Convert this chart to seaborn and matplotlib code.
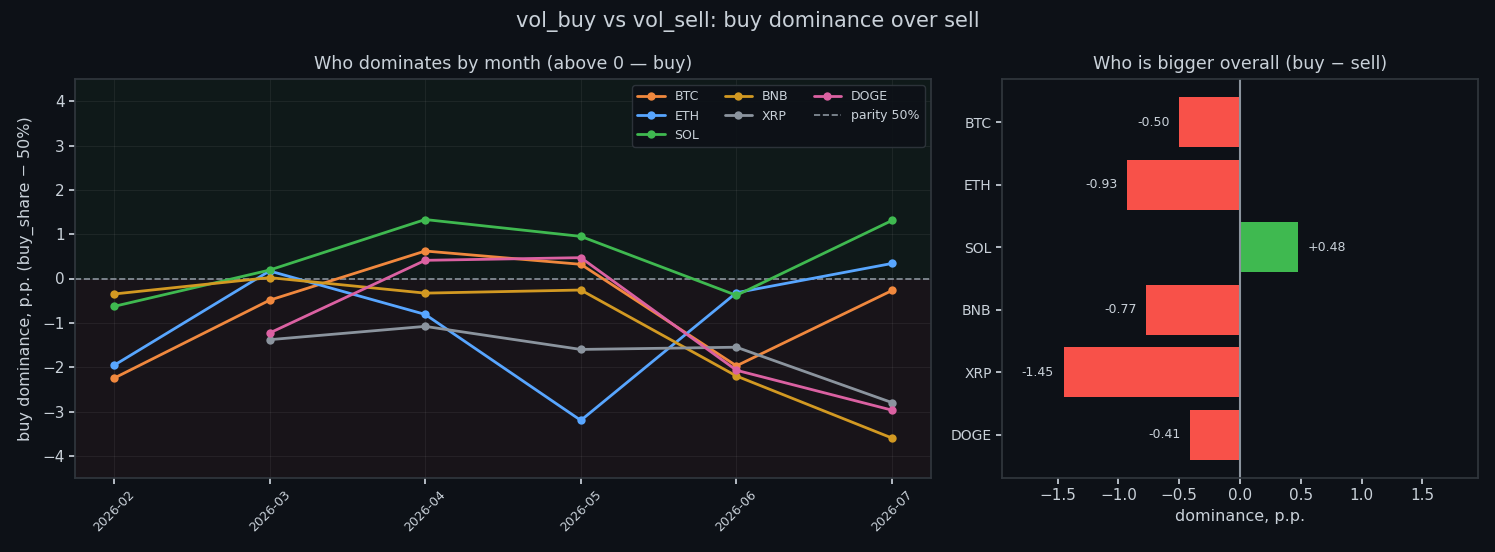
import numpy as np
import pandas as pd
import matplotlib
matplotlib.use("Agg")
import matplotlib.pyplot as plt
import seaborn as sns

months = ["2026-02", "2026-03", "2026-04", "2026-05", "2026-06", "2026-07"]
btc = [-2.25, -0.49, 0.62, 0.32, -1.97, -0.27]
eth = [-1.96, 0.17, -0.81, -3.20, -0.32, 0.34]
sol = [-0.63, 0.19, 1.33, 0.95, -0.38, 1.31]
bnb = [-0.35, 0.02, -0.33, -0.26, -2.20, -3.60]
xrp = [np.nan, -1.38, -1.08, -1.60, -1.55, -2.80]
doge = [np.nan, -1.23, 0.41, 0.47, -2.07, -2.97]

coins = ["BTC", "ETH", "SOL", "BNB", "XRP", "DOGE"]
overall = [-0.50, -0.93, 0.48, -0.77, -1.45, -0.41]

colors = {"BTC": "#f0883e", "ETH": "#58a6ff", "SOL": "#3fb950",
          "BNB": "#d29922", "XRP": "#8b949e", "DOGE": "#db61a2"}

BG = "#0d1117"
TXT = "#c9d1d9"
SPINE = "#30363d"

sns.set_theme(style="dark")
plt.rcParams.update({
    "figure.facecolor": BG, "axes.facecolor": BG, "axes.edgecolor": SPINE,
    "text.color": TXT, "axes.labelcolor": TXT, "xtick.color": TXT, "ytick.color": TXT,
    "font.family": ["DejaVu Sans"],
})

series = {"BTC": btc, "ETH": eth, "SOL": sol, "BNB": bnb, "XRP": xrp, "DOGE": doge}
rows = []
for c in coins:
    for i, m in enumerate(months):
        rows.append({"idx": i, "month": m, "coin": c, "val": series[c][i]})
df = pd.DataFrame(rows).dropna()

fig = plt.figure(figsize=(14.95, 5.52), dpi=100)
ax1 = fig.add_axes([75/1495, 74/552, 856/1495, 399/552])
ax2 = fig.add_axes([1002/1495, 74/552, 476/1495, 399/552])

ax1.axhspan(0, 4.5, color="#3fb950", alpha=0.05, lw=0, zorder=0)
ax1.axhspan(-4.5, 0, color="#f85149", alpha=0.05, lw=0, zorder=0)
sns.lineplot(data=df, x="idx", y="val", hue="coin", hue_order=coins, palette=colors,
             marker="o", markersize=6, markeredgewidth=0, linewidth=2, ax=ax1, zorder=3)
ax1.axhline(0, color="#8b949e", ls="--", lw=1.2, label="parity 50%", zorder=2)
ax1.set_xlim(-0.25, 5.25)
ax1.set_ylim(-4.5, 4.5)
ax1.set_xticks(range(len(months)))
ax1.set_xticklabels(months, rotation=45, fontsize=9)
ax1.tick_params(axis="x", length=4, color=TXT, bottom=True)
ax1.tick_params(axis="y", length=4, color=TXT, left=True, labelsize=11)
ax1.grid(True, color="#ffffff", alpha=0.06, lw=0.8)
ax1.set_xlabel("")
ax1.set_ylabel("buy dominance, p.p. (buy_share − 50%)", fontsize=11.5, labelpad=6)
ax1.set_title("Who dominates by month (above 0 — buy)", fontsize=12.6, color=TXT, pad=7)
for s in ax1.spines.values():
    s.set_color(SPINE)
h, l = ax1.get_legend_handles_labels()
leg = ax1.legend(h, l, ncol=3, loc="upper right", fontsize=9, frameon=True,
                 facecolor=BG, edgecolor=SPINE, framealpha=0.9, labelcolor=TXT,
                 columnspacing=2.0, handlelength=2.2)

bar_df = pd.DataFrame({"coin": coins, "val": overall})
bar_colors = ["#3fb950" if v > 0 else "#f85149" for v in overall]
sns.barplot(data=bar_df, x="val", y="coin", hue="coin", palette=bar_colors, legend=False,
            orient="h", width=0.8, ax=ax2, saturation=1, linewidth=0, edgecolor="none")
ax2.axvline(0, color="#8b949e", lw=1.5)
lim = max(abs(v) for v in overall) * 1.35
ax2.set_xlim(-lim, lim)
ax2.set_ylim(len(coins) - 1 + 0.69, -0.69)
for i, v in enumerate(overall):
    lab = f"+{v:.2f}" if v > 0 else f"{v:.2f}".replace("−", "-")
    ax2.annotate(lab, (v, i), xytext=(7 if v > 0 else -7, 0), textcoords="offset points",
                 ha="left" if v > 0 else "right", va="center", fontsize=9, color=TXT)
ax2.set_xlabel("dominance, p.p.", fontsize=11.5)
ax2.set_ylabel("")
ax2.set_title("Who is bigger overall (buy − sell)", fontsize=12.6, color=TXT, pad=7)
ax2.tick_params(axis="x", length=4, color=TXT, bottom=True, labelsize=11)
ax2.tick_params(axis="y", length=4, color=TXT, left=True, labelsize=10)
ax2.grid(False)
for s in ax2.spines.values():
    s.set_color(SPINE)

fig.suptitle("vol_buy vs vol_sell: buy dominance over sell", fontsize=15, color=TXT, y=0.98)
fig.savefig("out.png", dpi=100, facecolor=BG)
